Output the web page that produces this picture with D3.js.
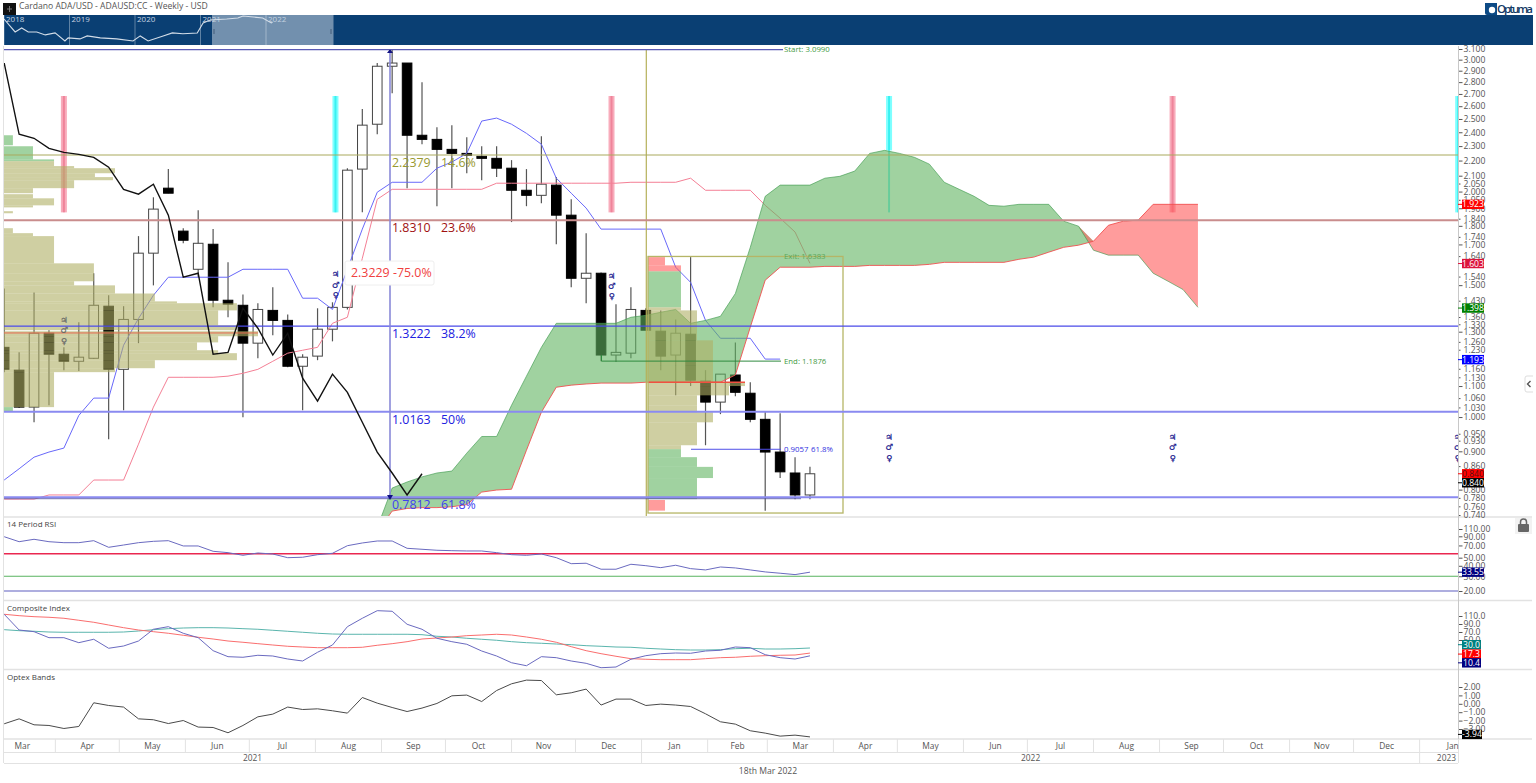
<!DOCTYPE html>
<html><head><meta charset="utf-8">
<style>html,body{margin:0;padding:0;background:#fff;overflow:hidden}svg{display:block}text{font-family:"Open Sans",sans-serif}</style>
<script src="https://cdnjs.cloudflare.com/ajax/libs/d3/7.8.5/d3.min.js"></script>
</head><body><svg id="c" width="1536" height="783"></svg>
<script>
// ---------- data ----------
const chartTitle="Cardano ADA/USD - ADAUSD:CC - Weekly - USD";
const firstWeek="2021-03-08";
const open=[1.239,1.155,1.031,1.294,1.213,1.187,1.198,1.406,1.158,1.35,1.655,2.021,1.771,1.575,1.701,1.432,1.41,1.255,1.388,1.346,1.169,1.206,1.31,1.401,2.143,2.46,2.94,2.969,2.378,2.348,2.277,2.249,2.229,2.215,2.149,2.008,1.977,2.04,1.86,1.532,1.556,1.21,1.217,1.388,1.302,1.21,1.29,1.117,1.047,1.138,1.076,.993,.898,.842,.787];
const high=[1.485,1.22,1.467,1.306,1.239,1.338,1.556,1.454,1.406,1.744,1.965,2.143,1.787,1.889,1.782,1.609,1.458,1.419,1.49,1.371,1.213,1.397,1.423,2.149,2.577,2.969,3.1,2.969,2.799,2.437,2.453,2.363,2.299,2.299,2.203,2.143,2.37,2.091,1.953,1.76,1.56,1.415,1.49,1.397,1.388,1.35,1.635,1.155,1.141,1.258,1.113,1.018,1.012,.884,.858];
const low=[1.148,1.028,.984,1.037,1.155,1.152,1.195,.934,1.021,1.255,1.499,1.99,1.706,1.537,1.401,1.359,.999,1.198,1.286,1.165,1.021,1.191,1.262,1.392,1.877,2.385,2.706,2.021,2.313,1.912,2.021,2.116,2.071,2.091,1.821,1.912,1.929,1.701,1.49,1.419,1.187,1.184,1.198,1.306,1.155,1.069,1.1,.917,1.009,1.066,.984,.75,.829,.777,.777];
const close=[1.158,1.031,1.294,1.213,1.187,1.202,1.41,1.158,1.35,1.655,1.895,1.99,1.722,1.706,1.432,1.415,1.255,1.392,1.346,1.169,1.202,1.31,1.401,2.136,2.453,2.94,2.969,2.378,2.348,2.277,2.249,2.236,2.215,2.149,2.008,1.977,2.046,1.86,1.532,1.556,1.21,1.22,1.392,1.306,1.206,1.294,1.12,1.047,1.141,1.079,.993,.898,.845,.787,.84];
const tenkan=[.824,.853,.884,.898,.909,1.005,1.06,1.06,1.247,1.354,1.454,1.537,1.537,1.537,1.537,1.537,1.575,1.575,1.575,1.575,1.441,1.441,1.392,1.575,1.782,1.996,2.058,2.058,2.058,2.149,2.19,2.249,2.484,2.507,2.46,2.392,2.313,2.084,1.99,1.901,1.782,1.782,1.782,1.782,1.782,1.585,1.513,1.346,1.274,1.274,1.274,1.195,1.195];
const kijun=[.777,.777,.777,.787,.787,.787,.824,.824,.824,.92,1.031,1.13,1.13,1.13,1.13,1.134,1.144,1.158,1.187,1.217,1.228,1.239,1.334,1.359,1.629,1.953,2.014,2.014,2.014,2.014,2.014,2.014,2.014,2.052,2.052,2.052,2.052,2.052,2.052,2.052,2.052,2.052,2.058,2.058,2.058,2.058,2.084,2.008,2.008,2.008,2.008,1.917,1.843,1.766,1.604];
const chikou=[2.969,2.385,2.356,2.284,2.256,2.242,2.222,2.156,2.014,1.984,2.046,1.86,1.537,1.556,1.213,1.22,1.397,1.314,1.21,1.294,1.127,1.05,1.141,1.079,.984,.898,.842,.787,.84];
const cloudStart=25;
const spanA=[.712,.804,.819,.832,.842,.847,.895,.942,.942,1.037,1.134,1.239,1.334,1.334,1.334,1.334,1.334,1.359,1.367,1.38,1.392,1.334,1.346,1.363,1.462,1.685,1.971,2.04,2.04,2.04,2.084,2.096,2.13,2.249,2.27,2.249,2.222,2.176,2.058,2.014,1.971,1.917,1.912,1.923,1.923,1.923,1.826,1.798,1.67,1.645,1.645,1.645,1.556,1.518,1.48,1.401];
const spanB=[.702,.749,.755,.757,.757,.759,.764,.794,.799,.801,.903,1.015,1.096,1.103,1.107,1.11,1.11,1.11,1.113,1.113,1.113,1.113,1.113,1.113,1.138,1.318,1.523,1.585,1.585,1.585,1.589,1.589,1.589,1.594,1.594,1.594,1.594,1.599,1.609,1.609,1.609,1.609,1.609,1.624,1.635,1.66,1.685,1.696,1.717,1.803,1.826,1.832,1.923,1.923,1.923,1.923];
// left volume profile: bin top, bin bottom, share of the largest bin, zone
const vpTop=[2.378,2.299,2.208,2.196,2.163,2.149,2.116,2.091,2.071,2.021,1.984,1.959,1.917,1.883,1.787,1.76,1.744,1.604,1.556,1.518,1.499,1.462,1.427,1.419,1.388,1.326,1.302,1.282,1.258,1.228,1.217,1.191,1.162,1.148,1.031];
const vpBot=[2.306,2.208,2.196,2.163,2.149,2.116,2.091,2.071,2.021,1.99,1.959,1.917,1.905,1.871,1.76,1.744,1.604,1.556,1.518,1.499,1.462,1.427,1.419,1.388,1.326,1.306,1.282,1.258,1.228,1.217,1.191,1.162,1.148,1.031,1.018];
const vpVol=[3.5,11.4,19.7,19.7,27.6,43.7,35.8,42.9,27.6,11.4,11.4,19.7,11.4,3.5,3.5,11.4,19.7,35.4,35.4,27.6,43.7,59.4,68.1,91.7,84.3,91.7,100,84.3,76,84.3,91.7,59.4,43.7,19.7,3.5];
const vpZone=["g","g","g","o","o","o","o","o","o","o","o","o","o","o","o","o","o","o","o","o","o","o","o","o","o","o","o","o","o","o","o","o","o","o","g"];
// right volume profile
const vp2Top=[1.635,1.594,1.565,1.401,1.388,1.266,1.173,1.113,1.1,1.069,1.037,1.015,.984,.917,.906,.884,.858,.829,.775];
const vp2Bot=[1.594,1.565,1.401,1.388,1.266,1.173,1.113,1.1,1.069,1.037,1.015,.984,.917,.906,.884,.858,.829,.777,.75];
const vp2Vol=[17.5,34,34,34,50.5,67,67,100,83.5,50.5,50.5,67,50.5,34,34,50.5,67,50.5,17.5];
const vp2Zone=["r","r","g","o","o","o","o","o","o","o","o","o","o","o","g","g","g","g","r"];
const fibPrice=[2.2379,1.831,1.3222,1.0163,.7812];
const fibPct=["14.6%","23.6%","38.2%","50%","61.8%"];
const priceTicks=[3.1,3,2.9,2.8,2.7,2.6,2.5,2.4,2.3,2.2,2.1,2.05,2,1.95,1.9,1.84,1.8,1.74,1.7,1.64,1.54,1.5,1.43,1.36,1.33,1.3,1.26,1.23,1.16,1.13,1.1,1.06,1.03,1,.95,.93,.9,.86,.8,.78,.76,.74];
const rsi=[89,77.6,82.9,77.6,75.5,75.5,79.8,66.5,70.8,75.5,78.4,79.8,69,69,59.6,57.4,53.4,56.9,55.3,50,50.6,54.3,56.4,69.5,74.9,79.1,79.1,64.7,63,61.3,60.6,60.1,60.1,57.4,54.3,53.4,55.3,50,42.4,42.9,36.4,36.4,41.7,40.1,38,40.6,37,35.7,38.7,37.7,35.7,33.8,32.6,31.4,33.55];
const rsiLevels=[55.8,30,20];
const rsiTicks=[110,90,70,50,40,30,20];
const composite=[114.3,75,70.8,55.8,55.8,43.3,51.8,29.3,35,47.5,76.8,83.3,66.8,55.8,23.3,8.3,6.8,11.8,10,2.5,-2.5,19.3,37.5,83.3,104.3,123.3,121.8,89.3,76.8,54.3,45.8,39.3,22.5,10,-6.8,-14.3,8.3,5.8,-2.5,-8.3,-19.3,-17.5,1.8,10.8,15.8,17.5,16.8,22.5,24.3,32.5,30.8,13.3,5.8,2.5,10.4];
const compFast=[114.3,110.8,108.3,106.8,104.3,99.3,94.3,87.5,80.8,75,70.8,66.8,61.8,56.8,52.5,47.5,44.3,40.8,37.5,34.3,32.5,30.8,30.8,30.8,31.8,36.8,40.8,45.8,52.5,55,57.5,60.8,62.5,64.3,62.5,57.5,51.8,44.3,33.3,23.3,15.8,9.3,3.3,1.8,.8,.8,.8,3.3,5.8,6.8,9.3,10.8,11.8,12.5,17.3];
const compSlow=[75.8,73.3,71.8,70,69.3,69.3,69.3,69.3,70,72.5,75.8,78.3,80,80.8,80.8,80,78.3,76.8,74.3,71.8,69.3,66.8,65,64.3,64.3,64.3,64.3,64.3,63.3,59.3,57.5,54.3,51.8,49.3,45.8,43.3,41.8,40,38.3,35.8,34.3,32.5,31.8,29.3,27.5,25.8,25,25,25.8,28.3,29.3,27.5,27.5,28.3,30];
const compTicks=[110,90,70,50];
const optex=[-2.38,-1.79,-2.5,-2.58,-2.94,-2.7,.12,-.2,-.39,-1.79,-1.9,-2.35,-1.99,-2.77,-2.82,-3.45,-2.58,-1.55,-1.23,-.39,-.68,-.6,-.83,-1.11,.75,.08,-.44,-.92,-.51,.04,.95,1.04,.27,1.58,2.38,2.82,2.77,1.07,1.31,1.75,-.15,.56,.56,-.2,-.04,-.15,-.32,-1.19,-2.14,-2.42,-3.21,-3.49,-3.85,-3.73,-3.94];
const optexTicks=[2,1,0,-1,-2,-3];
const navYears=[2018,2018.09,2018.17,2018.27,2018.37,2018.5,2018.63,2018.78,2018.93,2018.98,2019.16,2019.27,2019.47,2019.72,2019.97,2020.08,2020.2,2020.43,2020.57,2020.73,2020.95,2021.04,2021.15,2021.4,2021.57,2021.65,2021.95,2022.08,2022.1];
const navPrice=[1.68,.437,.138,.3,.138,.138,.078,.114,.024,.044,.036,.064,.044,.036,.024,.064,.024,.064,.114,.096,.114,.78,1.39,1.68,2.04,3,2.04,.78,.9];
const navTicks=[2018,2019,2020,2021,2022];
// time-cycle bars and astro events, in weeks from the first bar
const cycleWeeks=[4,22.2,40.7,59.3,78.3,97.44];
const cycleKind=["p","c","p","c","p","c"];
const astroWeeks=[4,22.2,40.7,59.3,78.3,97.4];
const astroPrice=[1.347,1.55,1.545,.94,.94,.94];
const glyphs=["\u2643","\u2642","\u2640"];
// ---------- scales ----------
const svg=d3.select("#c");
const W0=4,W1=1458;
const t0=+new Date(firstWeek+"T00:00Z");
const x=d3.scaleUtc().domain([new Date(t0),new Date("2023-01-19T00:00Z")]).range([4.2,W1]);
const X=i=>x(new Date(t0+i*7*864e5));
const y=d3.scaleLog().domain([3.1,.74]).range([49,515]);
const yR=d3.scaleLog().domain([110,20]).range([529,591]);
const yC=d3.scaleLinear().domain([110,10]).range([616,656]);
const yO=d3.scaleLinear().domain([2,-3]).range([687,729]);
const vx=d3.scaleLinear().domain([0,100]).range([0,254]);
const vx2=d3.scaleLinear().domain([0,100]).range([0,97]);
const navX=d3.scaleLinear().domain([2018,2022]).range([4,266]);
const navY=d3.scaleLog().domain([3,.024]).range([16,41]);
const defs=svg.append("defs");
defs.append("clipPath").attr("id","cm").append("rect").attr("x",W0).attr("y",49).attr("width",W1-W0).attr("height",467);
defs.append("clipPath").attr("id","cn").append("rect").attr("x",4).attr("y",15).attr("width",1529).attr("height",30);
const GREY="#555", OLIVE="rgb(175,175,100)", GREEN="rgb(97,180,97)", RED="rgb(255,90,90)";
const idx=d3.range(55);
const lineOf=(sc,off=0)=>d3.line().x((d,i)=>X(i+off)).y(d=>sc(d));
// ---------- header ----------
svg.append("rect").attr("x",3).attr("y",3).attr("width",13).attr("height",12).attr("fill","#111");
svg.append("path").attr("d","M7 9h5M9.5 6v6").attr("stroke","#777").attr("fill","none").attr("stroke-width",1);
svg.append("text").attr("x",19).attr("y",9).attr("font-size",8.6).attr("fill",GREY).text(chartTitle);
svg.append("rect").attr("x",4).attr("y",15).attr("width",1529).attr("height",30).attr("fill","#0a3f73");
const nav=svg.append("g").attr("clip-path","url(#cn)");
nav.append("rect").attr("x",212).attr("y",15).attr("width",121.5).attr("height",30).attr("fill","#7290ae");
nav.selectAll(".t").data(navTicks).join("line").attr("x1",d=>navX(d)).attr("x2",d=>navX(d)).attr("y1",15).attr("y2",45).attr("stroke","rgba(255,255,255,.35)");
nav.selectAll(".l").data(navTicks).join("text").attr("x",d=>navX(d)+2).attr("y",22).attr("font-size",8).attr("fill","#c4d2e0").text(d=>d);
nav.append("path").datum(navYears.map((t,i)=>[t,navPrice[i]])).attr("fill","none").attr("stroke","#d3dde8").attr("stroke-width",1.1)
 .attr("d",d3.line().x(d=>navX(d[0])).y(d=>navY(d[1])));
[214,331].forEach(v=>nav.append("rect").attr("x",v-1).attr("y",29).attr("width",2).attr("height",5).attr("fill","#5a7694"));
svg.append("path").attr("d","M1485 3h12v12h-10a2 2 0 0 1-2-2z").attr("fill","#0d4a85");
svg.append("circle").attr("cx",1492).attr("cy",10).attr("r",3.2).attr("fill","#fff");
svg.append("text").attr("x",1497).attr("y",13).attr("font-size",11.5).attr("fill","#123a66").attr("font-weight",600).attr("textLength",36).text("Optuma");
// ---------- main plot ----------
const m=svg.append("g").attr("clip-path","url(#cm)");
const barTop=y(2.683),barBot=y(1.876),cloudCap=y(2.27);
cycleWeeks.forEach((wk,j)=>{
 const cx=X(wk),k=cycleKind[j];
 if(k=="p"){
  m.append("rect").attr("x",cx-3).attr("y",barTop).attr("width",6).attr("height",barBot-barTop).attr("fill","rgb(240,70,105)").attr("opacity",.45);
  m.append("rect").attr("x",cx-1).attr("y",barTop).attr("width",2).attr("height",barBot-barTop).attr("fill","rgb(220,40,80)").attr("opacity",.3);
 } else {
  const overCloud=j==3;
  m.append("rect").attr("x",cx-3).attr("y",barTop).attr("width",6).attr("height",(overCloud?cloudCap:barBot)-barTop).attr("fill","rgb(0,255,255)").attr("opacity",.5);
  m.append("rect").attr("x",cx-1).attr("y",barTop).attr("width",2).attr("height",barBot-barTop).attr("fill","rgb(0,230,230)").attr("opacity",.55);
 }
});
// candles
const cg=m.append("g");
cg.selectAll(".w").data(idx).join("line").attr("x1",X).attr("x2",X).attr("y1",i=>y(high[i])).attr("y2",i=>y(low[i])).attr("stroke",GREY).attr("stroke-width",1.2);
cg.selectAll(".b").data(idx).join("rect").attr("x",i=>X(i)-4.8).attr("width",9.6)
 .attr("y",i=>y(Math.max(open[i],close[i]))).attr("height",i=>Math.max(1.5,Math.abs(y(open[i])-y(close[i]))))
 .attr("fill",i=>close[i]>=open[i]?"#fff":"#000").attr("stroke",i=>close[i]>=open[i]?"#444":"#000").attr("stroke-width",1);
// tenkan, kijun
m.append("path").datum(tenkan).attr("fill","none").attr("stroke","#6868fa").attr("stroke-width",1).attr("d",lineOf(y));
m.append("path").datum(kijun).attr("fill","none").attr("stroke","#f47f95").attr("stroke-width",1).attr("d",lineOf(y));
// cloud
const cloud=spanA.map((a,i)=>({i:i+cloudStart,a,b:spanB[i]}));
m.append("path").datum(cloud).attr("fill",GREEN).attr("opacity",.6)
 .attr("d",d3.area().x(d=>X(d.i)).y0(d=>y(d.b)).y1(d=>y(Math.max(d.a,d.b))));
m.append("path").datum(cloud).attr("fill",RED).attr("opacity",.6)
 .attr("d",d3.area().x(d=>X(d.i)).y0(d=>y(d.a)).y1(d=>y(Math.max(d.a,d.b))));
m.append("path").datum(spanA).attr("fill","none").attr("stroke","#3f9a4f").attr("stroke-width",.8).attr("opacity",.8).attr("d",lineOf(y,cloudStart));
m.append("path").datum(spanB).attr("fill","none").attr("stroke","#f05050").attr("stroke-width",.9).attr("d",lineOf(y,cloudStart));
// volume profiles
const zc={g:GREEN,o:OLIVE,r:RED};
m.selectAll(".v1").data(vpVol).join("rect").attr("x",W0).attr("width",d=>vx(d))
 .attr("y",(d,i)=>y(vpTop[i])).attr("height",(d,i)=>y(vpBot[i])-y(vpTop[i])).attr("fill",(d,i)=>zc[vpZone[i]]).attr("opacity",.6);
m.selectAll(".v2").data(vp2Vol).join("rect").attr("x",648).attr("width",d=>vx2(d))
 .attr("y",(d,i)=>y(vp2Top[i])).attr("height",(d,i)=>y(vp2Bot[i])-y(vp2Top[i])).attr("fill",(d,i)=>zc[vp2Zone[i]]).attr("opacity",.6);
// POC lines
m.append("line").attr("x1",W0).attr("x2",258).attr("y1",y(1.295)).attr("y2",y(1.295)).attr("stroke","#e66a50").attr("stroke-width",1);
m.append("line").attr("x1",648).attr("x2",745).attr("y1",y(1.113)).attr("y2",y(1.113)).attr("stroke","#f05040").attr("stroke-width",1.5);
// range box
m.append("rect").attr("x",648).attr("y",y(1.6383)).attr("width",195).attr("height",y(.7445)-y(1.6383)).attr("fill","none").attr("stroke","#b5b566").attr("stroke-width",1.3);
m.append("line").attr("x1",646.3).attr("x2",646.3).attr("y1",49).attr("y2",516).attr("stroke","#b5b05a").attr("stroke-width",1.2);
// fib levels
m.append("line").attr("x1",W0).attr("x2",783).attr("y1",y(3.1)+.6).attr("y2",y(3.1)+.6).attr("stroke","#5a5ab4").attr("stroke-width",1.2);
const fibStroke=["#a9a95d","#c98d8d","#4a4ae8","#8a8af0","#8a8af0"],fibW=[1,2,1.2,2,2],fibText=["#99992f","#a01010","#2020e0","#2020e0","#4040f0"];
m.selectAll(".f").data(fibPrice).join("line").attr("x1",W0).attr("x2",W1).attr("y1",d=>y(d)).attr("y2",d=>y(d)).attr("stroke",(d,i)=>fibStroke[i]).attr("stroke-width",(d,i)=>fibW[i]);
m.append("line").attr("x1",W0).attr("x2",801).attr("y1",y(.778)).attr("y2",y(.778)).attr("stroke","#5050a0").attr("stroke-width",.8);
m.append("line").attr("x1",390).attr("x2",390).attr("y1",49).attr("y2",y(.7812)).attr("stroke","#8a8ad8").attr("stroke-width",1.6);
m.append("path").attr("d","M387 53L390 49L393 53Z").attr("fill","#101080");
m.append("path").attr("d","M387 495L393 495L390 500Z").attr("fill","#101080");
fibPrice.forEach((p,i)=>{
 m.append("text").attr("x",392).attr("y",y(p)+12).attr("font-size",12.4).attr("fill",fibText[i]).text(d3.format(".4f")(p));
 m.append("text").attr("x",441).attr("y",y(p)+12).attr("font-size",12.4).attr("fill",fibText[i]).text(fibPct[i]);
});
// chikou above everything in the plot
m.append("path").datum(chikou).attr("fill","none").attr("stroke","#111").attr("stroke-width",1.4).attr("d",lineOf(y));
// annotations
m.append("rect").attr("x",345).attr("y",261).attr("width",89).attr("height",24).attr("fill","#fff").attr("stroke","#eee").attr("rx",2);
m.append("text").attr("x",351).attr("y",277).attr("font-size",12.4).attr("fill","#f04040").text("2.3229  -75.0%");
m.append("line").attr("x1",691).attr("x2",781).attr("y1",y(.9057)).attr("y2",y(.9057)).attr("stroke","#5050e8").attr("stroke-width",1);
m.append("text").attr("x",784).attr("y",y(.9057)+3).attr("font-size",7.8).attr("fill","#3030e0").text("0.9057");
m.append("text").attr("x",811).attr("y",y(.9057)+3).attr("font-size",7.8).attr("fill","#3030e0").text("61.8%");
m.append("path").attr("d",`M601.5 ${y(1.21)}V${y(1.1876)}H781`).attr("fill","none").attr("stroke","#2f8a3f").attr("stroke-width",1);
[["Start: 3.0990",3.0990,"#3f9a3f"],["End: 1.1876",1.1876,"#3f9a3f"],["Exit: 1.6383",1.6383,"#5aa85a"]].forEach(a=>{
 svg.append("text").attr("x",784).attr("y",y(a[1])+3).attr("font-size",7.8).attr("fill",a[2]).text(a[0]);
});
// astro glyphs
astroWeeks.forEach((wk,k)=>{
 glyphs.forEach((g,j)=>{
  m.append("text").attr("x",X(wk)).attr("y",y(astroPrice[k])+3+j*10.3).attr("text-anchor","middle").attr("font-size",8.4)
   .style("font-family","DejaVu Sans").attr("fill",k==0?"#666":"#10108a").attr("stroke",k==0?"#666":"#10108a").attr("stroke-width",.2).text(g);
 });
});
// ---------- sub panels ----------
const sub=svg.append("g");
rsiLevels.forEach((v,i)=>sub.append("line").attr("x1",W0).attr("x2",W1).attr("y1",yR(v)).attr("y2",yR(v)).attr("stroke",["#ea2750","#58b35f","#5f5fc0"][i]).attr("stroke-width",[1.5,1.2,1.2][i]));
sub.append("path").datum(rsi).attr("fill","none").attr("stroke","#6a6ac0").attr("stroke-width",1).attr("d",lineOf(yR));
sub.append("path").datum(compSlow).attr("fill","none").attr("stroke","#5ab5ad").attr("stroke-width",1).attr("d",lineOf(yC));
sub.append("path").datum(compFast).attr("fill","none").attr("stroke","#fa6e6e").attr("stroke-width",1).attr("d",lineOf(yC));
sub.append("path").datum(composite).attr("fill","none").attr("stroke","#6a6ac0").attr("stroke-width",1).attr("d",lineOf(yC));
sub.append("path").datum(optex).attr("fill","none").attr("stroke","#4a4a4a").attr("stroke-width",1).attr("d",lineOf(yO));
[["14 Period RSI",527],["Composite Index",611],["Optex Bands",680]].forEach(a=>sub.append("text").attr("x",7).attr("y",a[1]).attr("font-size",8).attr("fill","#444").text(a[0]));
// frame
const fr=svg.append("g").attr("stroke","#e2e2e2").attr("fill","none");
[517,600.5,669.5,739].forEach(v=>fr.append("line").attr("x1",W0).attr("x2",1532).attr("y1",v).attr("y2",v).attr("stroke-width",1.4));
fr.append("line").attr("x1",3.5).attr("x2",3.5).attr("y1",46).attr("y2",763);
fr.append("line").attr("x1",4).attr("x2",W1).attr("y1",752.5).attr("y2",752.5);
fr.append("line").attr("x1",4).attr("x2",W1).attr("y1",763.5).attr("y2",763.5);
fr.append("line").attr("x1",1458.5).attr("x2",1458.5).attr("y1",739).attr("y2",763);
// ---------- axes ----------
function rightAxis(sc,vals,fmt){
 const g=svg.append("g").attr("transform",`translate(${W1+.5},0)`)
  .call(d3.axisRight(sc).tickValues(vals).tickSize(4).tickPadding(1).tickFormat(d3.format(fmt)));
 g.select(".domain").remove();
 g.selectAll("text").attr("font-size",8.6).attr("fill",GREY).style("font-family",'"Open Sans",sans-serif');
 g.selectAll("line").attr("stroke","#555");
 return g;
}
const pa=rightAxis(y,priceTicks,".3f");
pa.selectAll("line").attr("x2",d=>Math.round(d*1000)%100===0?4:2);
pa.selectAll("text").attr("x",5);
[[yR,rsiTicks,".2f"],[yC,compTicks,".1f"],[yO,optexTicks,".2f"]].forEach(a=>rightAxis(a[0],a[1],a[2]).selectAll("text").attr("x",5));
svg.append("line").attr("x1",W1+.5).attr("x2",W1+.5).attr("y1",46).attr("y2",739).attr("stroke","#c8c8c8");
// value tags
function tag(yv,label,fill,w=22,fc="#fff"){
 svg.append("rect").attr("x",1462).attr("y",yv-4.7).attr("width",w).attr("height",9.4).attr("fill",fill);
 svg.append("line").attr("x1",1458).attr("x2",1462).attr("y1",yv).attr("y2",yv).attr("stroke",fill);
 svg.append("text").attr("x",1462+w/2).attr("y",yv+3).attr("text-anchor","middle").attr("font-size",8.6).attr("fill",fc).text(label);
}
tag(y(1.923),"1.923","#ff0000");
tag(y(1.603),"1.603","#dc143c");
tag(y(1.398),"1.398","#008000");
tag(y(1.193),"1.193","#0000ff");
tag(y(.84),"0.840","#ff0000",22,"#511");
tag(y(.84)+9,"0.840","#000");
tag(yR(33.55),"33.55","#000080");
tag(yC(30)-3.3,"30.0","#008080",19);
tag(yC(17.3)+1,"17.3","#ff0000",19);
tag(yC(10.4)+7,"10.4","#000080",19);
tag(yO(-3.94)-2.5,"-3.94","#000",20);
// ---------- time axis ----------
const months=d3.utcMonth.range(new Date("2021-03-01T00:00Z"),new Date("2023-02-01T00:00Z"));
const ax=svg.append("g");
months.forEach(d=>{
 const px=x(d);
 if(px>W0&&px<W1) ax.append("line").attr("x1",px).attr("x2",px).attr("y1",739).attr("y2",752).attr("stroke","#e2e2e2");
 const nx=x(d3.utcMonth.offset(d,1));
 ax.append("text").attr("x",(px+nx)/2).attr("y",749).attr("text-anchor","middle").attr("font-size",8.4).attr("fill",GREY).text(d3.utcFormat("%b")(d));
});
ax.append("line").attr("x1",x(new Date("2022-01-01T00:00Z"))).attr("x2",x(new Date("2022-01-01T00:00Z"))).attr("y1",752).attr("y2",763).attr("stroke","#e2e2e2");
ax.append("line").attr("x1",x(new Date("2023-01-01T00:00Z"))).attr("x2",x(new Date("2023-01-01T00:00Z"))).attr("y1",752).attr("y2",763).attr("stroke","#e2e2e2");
[2021,2022].forEach(yr=>{
 const a=x(new Date(yr+"-01-01T00:00Z")),b=x(new Date((yr+1)+"-01-01T00:00Z"));
 ax.append("text").attr("x",(a+b)/2).attr("y",761).attr("text-anchor","middle").attr("font-size",8.4).attr("fill",GREY).text(yr);
});
ax.append("text").attr("x",1456).attr("y",761).attr("text-anchor","end").attr("font-size",8.4).attr("fill",GREY).text("2023");
svg.append("text").attr("x",768).attr("y",774).attr("text-anchor","middle").attr("font-size",8.6).attr("fill",GREY).text("18th Mar 2022");
// ---------- side widgets ----------
svg.append("rect").attr("x",1515).attr("y",518).attr("width",17).attr("height",16).attr("fill","#f2f2f2");
svg.append("rect").attr("x",1518).attr("y",524).attr("width",11).attr("height",8).attr("rx",1).attr("fill","#666");
svg.append("path").attr("d","M1520.5 524v-2a3 3 0 0 1 6 0v2").attr("fill","none").attr("stroke","#666").attr("stroke-width",1.5);
svg.append("path").attr("d","M1533 376h-6a2 2 0 0 0-2 2v12a2 2 0 0 0 2 2h6").attr("fill","#fff").attr("stroke","#ddd");
svg.append("path").attr("d","M1530.5 381l-3 3l3 3").attr("fill","none").attr("stroke","#555").attr("stroke-width",1.4);
</script></body></html>
